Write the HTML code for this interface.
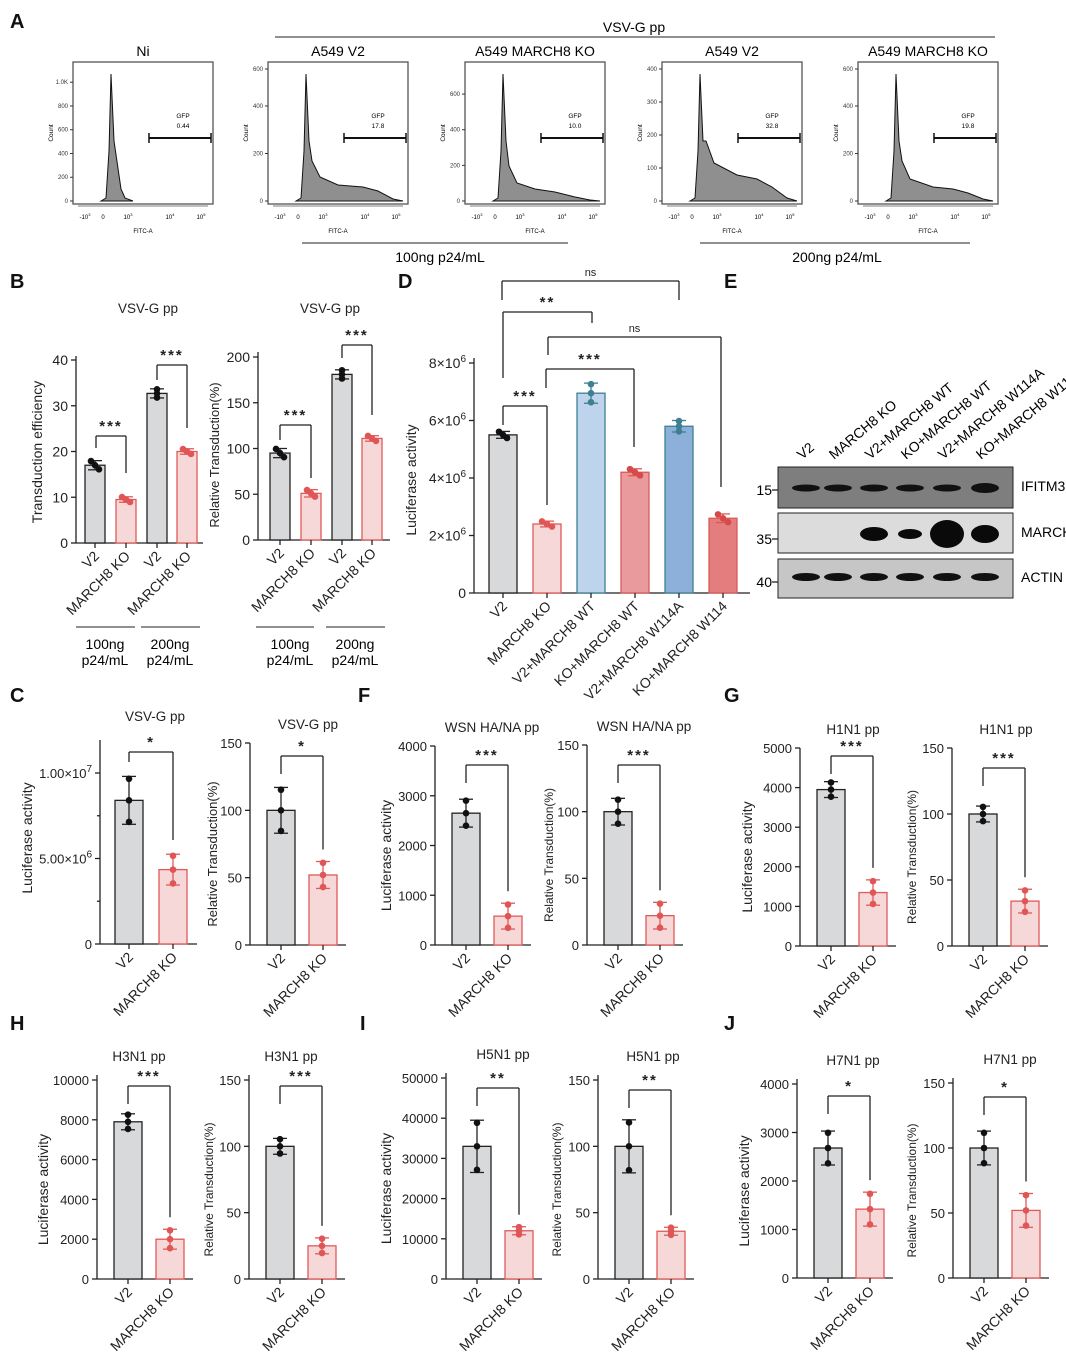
<!DOCTYPE html>
<html><head><meta charset="utf-8"><style>
body{margin:0;background:#fff}
svg{display:block;font-family:"Liberation Sans",Arial,sans-serif}
</style></head><body>
<svg id="s" width="1066" height="1368" viewBox="0 0 1066 1368" xmlns="http://www.w3.org/2000/svg"></svg>
<script>
const S=document.getElementById('s');let o='';
function t(x,y,s,sz,extra){o+=`<text x="${x}" y="${y}" font-size="${sz||13}" ${extra||''}>${s}</text>`;}
function L(x1,y1,x2,y2,c,w){o+=`<line x1="${x1}" y1="${y1}" x2="${x2}" y2="${y2}" stroke="${c||'#222'}" stroke-width="${w||1.3}"/>`;}
const G={f:'#d8d9db',s:'#222',d:'#111'},P={f:'#f7d8d9',s:'#e05a5a',d:'#e05555'};
function chart(c){
 const sc=v=>c.y0-(v/c.max)*(c.y0-c.yt);
 L(c.ax,c.top,c.ax,c.y0);L(c.ax,c.y0,c.xe,c.y0);
 c.ticks.forEach(k=>{const y=sc(k[0]);L(c.ax-5,y,c.ax,y);t(c.ax-8,y+5,k[1],c.fs||14,'text-anchor="end" fill="#222"');});
 if(c.minor)c.minor.forEach(v=>{const y=sc(v);L(c.ax-3,y,c.ax,y);});
 const w=c.bw||28;
 c.bars.forEach(b=>{const st=b.st||G;const y=sc(b.v);
  o+=`<rect x="${b.x-w/2}" y="${y}" width="${w}" height="${c.y0-y}" fill="${st.f}" stroke="${st.s}" stroke-width="1.3"/>`;
  const e=b.e||b.v*0.08;L(b.x,sc(b.v-e),b.x,sc(b.v+e),st.s);L(b.x-7,sc(b.v+e),b.x+7,sc(b.v+e),st.s);L(b.x-7,sc(b.v-e),b.x+7,sc(b.v-e),st.s);
  [[-1,b.v+e*0.9],[0,b.v],[1,b.v-e*0.9]].forEach((p,i)=>{o+=`<circle cx="${b.x+(b.dx?p[0]*b.dx:0)}" cy="${sc(p[1])}" r="3.3" fill="${st.d}"/>`;});
  L(b.x,c.y0,b.x,c.y0+5);
  o+=`<text transform="translate(${b.x+5},${c.y0+14}) rotate(-45)" font-size="14" text-anchor="end" fill="#222">${b.l}</text>`;
 });
 if(c.title)t(c.tx,c.ty,c.title,13.5,'text-anchor="middle" fill="#222"');
 o+=`<text transform="translate(${c.lx},${c.ly}) rotate(-90)" font-size="${c.lfs||14}" text-anchor="middle" fill="#222">${c.ylab}</text>`;
 (c.br||[]).forEach(b=>{L(b[0],b[3],b[0],b[2]);L(b[0],b[2],b[1],b[2]);L(b[1],b[2],b[1],b[4]);const ns=b[5]=='ns';t((b[0]+b[1])/2,b[2]-5,b[5],ns?11:15,'text-anchor="middle" fill="#222"'+(ns?'':' font-weight="bold" letter-spacing="2"'));});
}
function pair(ax,y0,yt,top,max,ticks,v1,v2,e1,e2,title,tx,ylab,lx,bry,fs,sig,lfs,minor){
 const x1=ax+31,x2=ax+73;
 chart({ax:ax,y0:y0,yt:yt,top:top,max:max,xe:ax+96,ticks:ticks,minor:minor,bars:[{x:x1,v:v1,e:e1,l:'V2'},{x:x2,v:v2,e:e2,l:'MARCH8 KO',st:P}],
 title:title,tx:tx,ty:top-14,ylab:ylab,lx:lx,ly:(y0+yt)/2+10,fs:fs,lfs:lfs,br:[[x1,x2,bry,bry+18,y0-(v2+e2)/max*(y0-yt)-12,sig]]});
}
[['A',10,28],['B',10,288],['C',10,702],['D',398,288],['E',724,288],['F',358,702],['G',724,702],['H',10,1030],['I',360,1030],['J',724,1030]].forEach(p=>t(p[1],p[2],p[0],20,'font-weight="bold" fill="#111"'));
// ===== A flow =====
t(634,32,'VSV-G pp',14,'text-anchor="middle"');L(275,37,995,37,'#222',1);
function flow(x,y,title,gfp,ylabs,shape){
 const w=140,h=142;
 o+=`<rect x="${x}" y="${y}" width="${w}" height="${h}" fill="none" stroke="#555" stroke-width="1.3"/>`;
 t(x+w/2,y-6,title,14,'text-anchor="middle"');
 ylabs.forEach(v=>{const yy=y+h-3-v[0]*(h-10);L(x-3,yy,x,yy,'#333',1);t(x-5,yy+2,v[1],6,'text-anchor="end" fill="#333"');});
 o+=`<text transform="translate(${x-20},${y+h/2}) rotate(-90)" font-size="6.5" text-anchor="middle">Count</text>`;
 const b=y+h-3,px=x+38;
 let d=`M${x+28},${b} L${px-5},${b-3} L${px-2},${b-50} L${px},${y+12} L${px+3},${b-60} `;
 shape.forEach(p=>d+=`L${x+p[0]},${b-p[1]} `);d+=`Z`;
 o+=`<path d="${d}" fill="#8f8f8f" stroke="#111" stroke-width="1"/>`;
 L(x+76,y+76,x+w-2,y+76,'#111',2);L(x+76,y+71,x+76,y+81,'#111',1.5);L(x+w-2,y+71,x+w-2,y+81,'#111',1.5);
 t(x+110,y+56,'GFP',6.5,'text-anchor="middle"');t(x+110,y+66,gfp,6.5,'text-anchor="middle"');
 [[12,'-10<tspan font-size="4" dy="-3">3</tspan>'],[30,'0'],[55,'10<tspan font-size="4" dy="-3">3</tspan>'],[97,'10<tspan font-size="4" dy="-3">4</tspan>'],[128,'10<tspan font-size="4" dy="-3">5</tspan>']].forEach(v=>t(x+v[0],y+h+15,v[1],6,'text-anchor="middle"'));
 L(x+5,y+h+2,x+w-5,y+h+2,'#555',0.8);
 t(x+w/2,y+h+29,'FITC-A',6,'text-anchor="middle"');
}
flow(73,62,'Ni','0.44',[[0,'0'],[0.18,'200'],[0.36,'400'],[0.54,'600'],[0.72,'800'],[0.9,'1.0K']],[[48,12],[52,3],[60,0]]);
flow(268,62,'A549 V2','17.8',[[0,'0'],[0.36,'200'],[0.72,'400'],[1,'600']],[[44,40],[52,24],[70,16],[95,14],[110,10],[125,2],[135,0]]);
flow(465,62,'A549 MARCH8 KO','10.0',[[0,'0'],[0.27,'200'],[0.54,'400'],[0.81,'600']],[[44,35],[52,18],[70,12],[90,9],[110,4],[125,1],[135,0]]);
flow(662,62,'A549 V2','32.8',[[0,'0'],[0.25,'100'],[0.5,'200'],[0.75,'300'],[1,'400']],[[44,60],[52,38],[75,26],[95,22],[110,14],[125,3],[135,0]]);
flow(858,62,'A549 MARCH8 KO','19.8',[[0,'0'],[0.36,'200'],[0.72,'400'],[1,'600']],[[44,40],[52,22],[75,14],[95,12],[110,8],[125,2],[135,0]]);
L(302,243,568,243,'#222',1);t(440,262,'100ng p24/mL',14,'text-anchor="middle"');
L(700,243,970,243,'#222',1);t(837,262,'200ng p24/mL',14,'text-anchor="middle"');
// ===== B =====
chart({ax:76,y0:543,yt:360,top:356,max:40,xe:203,bw:20,ticks:[[0,'0'],[10,'10'],[20,'20'],[30,'30'],[40,'40']],
 bars:[{x:95,v:17,e:1,l:'V2',dx:4},{x:126,v:9.5,e:0.6,l:'MARCH8 KO',st:P,dx:4},{x:157,v:32.7,e:1,l:'V2'},{x:187,v:20,e:0.6,l:'MARCH8 KO',st:P,dx:4}],
 title:'VSV-G pp',tx:148,ty:313,ylab:'Transduction efficiency',lx:42,ly:452,br:[[96,126,436,448,473,'***'],[157,187,365,380,428,'***']]});
chart({ax:258,y0:540,yt:357,top:352,max:200,xe:390,bw:20,ticks:[[0,'0'],[50,'50'],[100,'100'],[150,'150'],[200,'200']],
 bars:[{x:280,v:95,e:5,l:'V2',dx:4},{x:311,v:51,e:4,l:'MARCH8 KO',st:P,dx:4},{x:342,v:181,e:5,l:'V2'},{x:372,v:111,e:3,l:'MARCH8 KO',st:P,dx:4}],
 title:'VSV-G pp',tx:330,ty:313,ylab:'Relative Transduction(%)',lx:219,ly:455,lfs:13,br:[[280,311,425,440,478,'***'],[342,372,345,358,415,'***']]});
L(76,627,135,627,'#222',1);L(141,627,200,627,'#222',1);
L(256,627,314,627,'#222',1);L(326,627,385,627,'#222',1);
[[105,'100ng'],[170,'200ng'],[290,'100ng'],[355,'200ng']].forEach(p=>{t(p[0],649,p[1],14,'text-anchor="middle"');t(p[0],665,'p24/mL',14,'text-anchor="middle"');});
// ===== D =====
const LB={f:'#bdd4ec',s:'#3f7f92',d:'#3f7f92'},MR={f:'#e89a9c',s:'#d85a5a',d:'#d84a4a'},MB={f:'#8cb0da',s:'#3f7f92',d:'#3f7f92'},DR={f:'#e47e7e',s:'#d85a5a',d:'#d84a4a'};
const sup=n=>`<tspan font-size="10" dy="-6">${n}</tspan>`;
chart({ax:474,y0:593,yt:363,top:358,max:8e6,xe:750,ticks:[[0,'0'],[2e6,'2×10'+sup(6)],[4e6,'4×10'+sup(6)],[6e6,'6×10'+sup(6)],[8e6,'8×10'+sup(6)]],
 bars:[{x:503,v:5.5e6,e:0.12e6,l:'V2',dx:4},{x:547,v:2.4e6,e:0.1e6,l:'MARCH8 KO',st:P,dx:5},{x:591,v:6.95e6,e:0.35e6,l:'V2+MARCH8 WT',st:LB},{x:635,v:4.2e6,e:0.12e6,l:'KO+MARCH8 WT',st:MR,dx:5},{x:679,v:5.8e6,e:0.2e6,l:'V2+MARCH8 W114A',st:MB},{x:723,v:2.6e6,e:0.15e6,l:'KO+MARCH8 W114',st:DR,dx:5}],
 ylab:'Luciferase activity',lx:416,ly:480,br:[[503,547,406,425,505,'***'],[546,634,369,388,447,'***'],[503,592,312,378,323,'**'],[548,721,337,355,487,'ns'],[502,679,281,300,300,'ns']]});
// ===== E western =====
const lanes=[806,838,874,910,947,985];
['V2','MARCH8 KO','V2+MARCH8 WT','KO+MARCH8 WT','V2+MARCH8 W114A','KO+MARCH8 W114A'].forEach((s,i)=>o+=`<text transform="translate(${lanes[i]-4},${460}) rotate(-40)" font-size="14">${s}</text>`);
o+=`<rect x="778" y="467" width="235" height="41" fill="#7e7e7e" stroke="#222"/>`;
o+=`<rect x="778" y="513" width="235" height="40" fill="#dcdcdc" stroke="#222"/>`;
o+=`<rect x="778" y="559" width="235" height="39" fill="#c6c6c6" stroke="#222"/>`;
lanes.forEach((x,i)=>{o+=`<ellipse cx="${x}" cy="${488}" rx="14" ry="${i==5?5:3.5}" fill="#111"/>`;o+=`<ellipse cx="${x}" cy="${577}" rx="14" ry="4" fill="#111"/>`;});
[[874,14,7],[910,12,5],[947,17,14],[985,14,9]].forEach(b=>o+=`<ellipse cx="${b[0]}" cy="${534}" rx="${b[1]}" ry="${b[2]}" fill="#0a0a0a"/>`);
[[15,490],[35,539],[40,582]].forEach(p=>{t(772,p[1]+5,p[0],14,'text-anchor="end"');L(772,p[1],778,p[1]);});
t(1021,491,'IFITM3',14);t(1021,537,'MARCH8',14);t(1021,582,'ACTIN',14);
// ===== C,F,G,H,I,J =====
const s7=n=>`<tspan font-size="10" dy="-6">${n}</tspan>`;
chart({ax:100,y0:944,yt:773,top:740,max:1e7,xe:197,fs:13,ticks:[[0,'0'],[5e6,'5.00×10'+s7(6)],[1e7,'1.00×10'+s7(7)]],minor:[2.5e6,7.5e6],
 bars:[{x:129,v:8.4e6,e:1.4e6,l:'V2'},{x:173,v:4.35e6,e:0.9e6,l:'MARCH8 KO',st:P}],title:'VSV-G pp',tx:155,ty:721,ylab:'Luciferase activity',lx:32,ly:838,br:[[129,173,752,762,840,'*']]});
pair(250,945,743,743,150,[[0,'0'],[50,'50'],[100,'100'],[150,'150']],100,52,17,10,'VSV-G pp',308,'Relative Transduction(%)',217,756,13,'*',13);
pair(435,945,746,746,4000,[[0,'0'],[1000,'1000'],[2000,'2000'],[3000,'3000'],[4000,'4000']],2650,580,280,260,'WSN HA/NA pp',492,'Luciferase activity',391,765,13,'***',14);
pair(587,945,745,745,150,[[0,'0'],[50,'50'],[100,'100'],[150,'150']],100,22,10,10,'WSN HA/NA pp',644,'Relative Transduction(%)',553,765,13,'***',12);
pair(800,946,748,748,5000,[[0,'0'],[1000,'1000'],[2000,'2000'],[3000,'3000'],[4000,'4000'],[5000,'5000']],3950,1350,200,320,'H1N1 pp',853,'Luciferase activity',752,756,13,'***',14);
pair(952,946,748,748,150,[[0,'0'],[50,'50'],[100,'100'],[150,'150']],100,34,6,9,'H1N1 pp',1006,'Relative Transduction(%)',916,768,13,'***',12);
pair(97,1279,1080,1075,10000,[[0,'0'],[2000,'2000'],[4000,'4000'],[6000,'6000'],[8000,'8000'],[10000,'10000']],7900,2000,400,500,'H3N1 pp',139,'Luciferase activity',48,1086,13,'***',14);
pair(249,1279,1080,1075,150,[[0,'0'],[50,'50'],[100,'100'],[150,'150']],100,25,6,6,'H3N1 pp',291,'Relative Transduction(%)',213,1086,13,'***',12);
pair(446,1279,1078,1073,50000,[[0,'0'],[10000,'10000'],[20000,'20000'],[30000,'30000'],[40000,'40000'],[50000,'50000']],33000,12000,6500,1000,'H5N1 pp',503,'Luciferase activity',391,1088,13,'**',14);
pair(598,1279,1080,1075,150,[[0,'0'],[50,'50'],[100,'100'],[150,'150']],100,36,20,3,'H5N1 pp',653,'Relative Transduction(%)',561,1090,13,'**',12);
pair(797,1278,1084,1079,4000,[[0,'0'],[1000,'1000'],[2000,'2000'],[3000,'3000'],[4000,'4000']],2680,1420,350,350,'H7N1 pp',853,'Luciferase activity',749,1096,13,'*',14);
pair(953,1278,1083,1078,150,[[0,'0'],[50,'50'],[100,'100'],[150,'150']],100,52,13,13,'H7N1 pp',1010,'Relative Transduction(%)',916,1097,13,'*',12);
S.innerHTML=o;
</script>
</body></html>
